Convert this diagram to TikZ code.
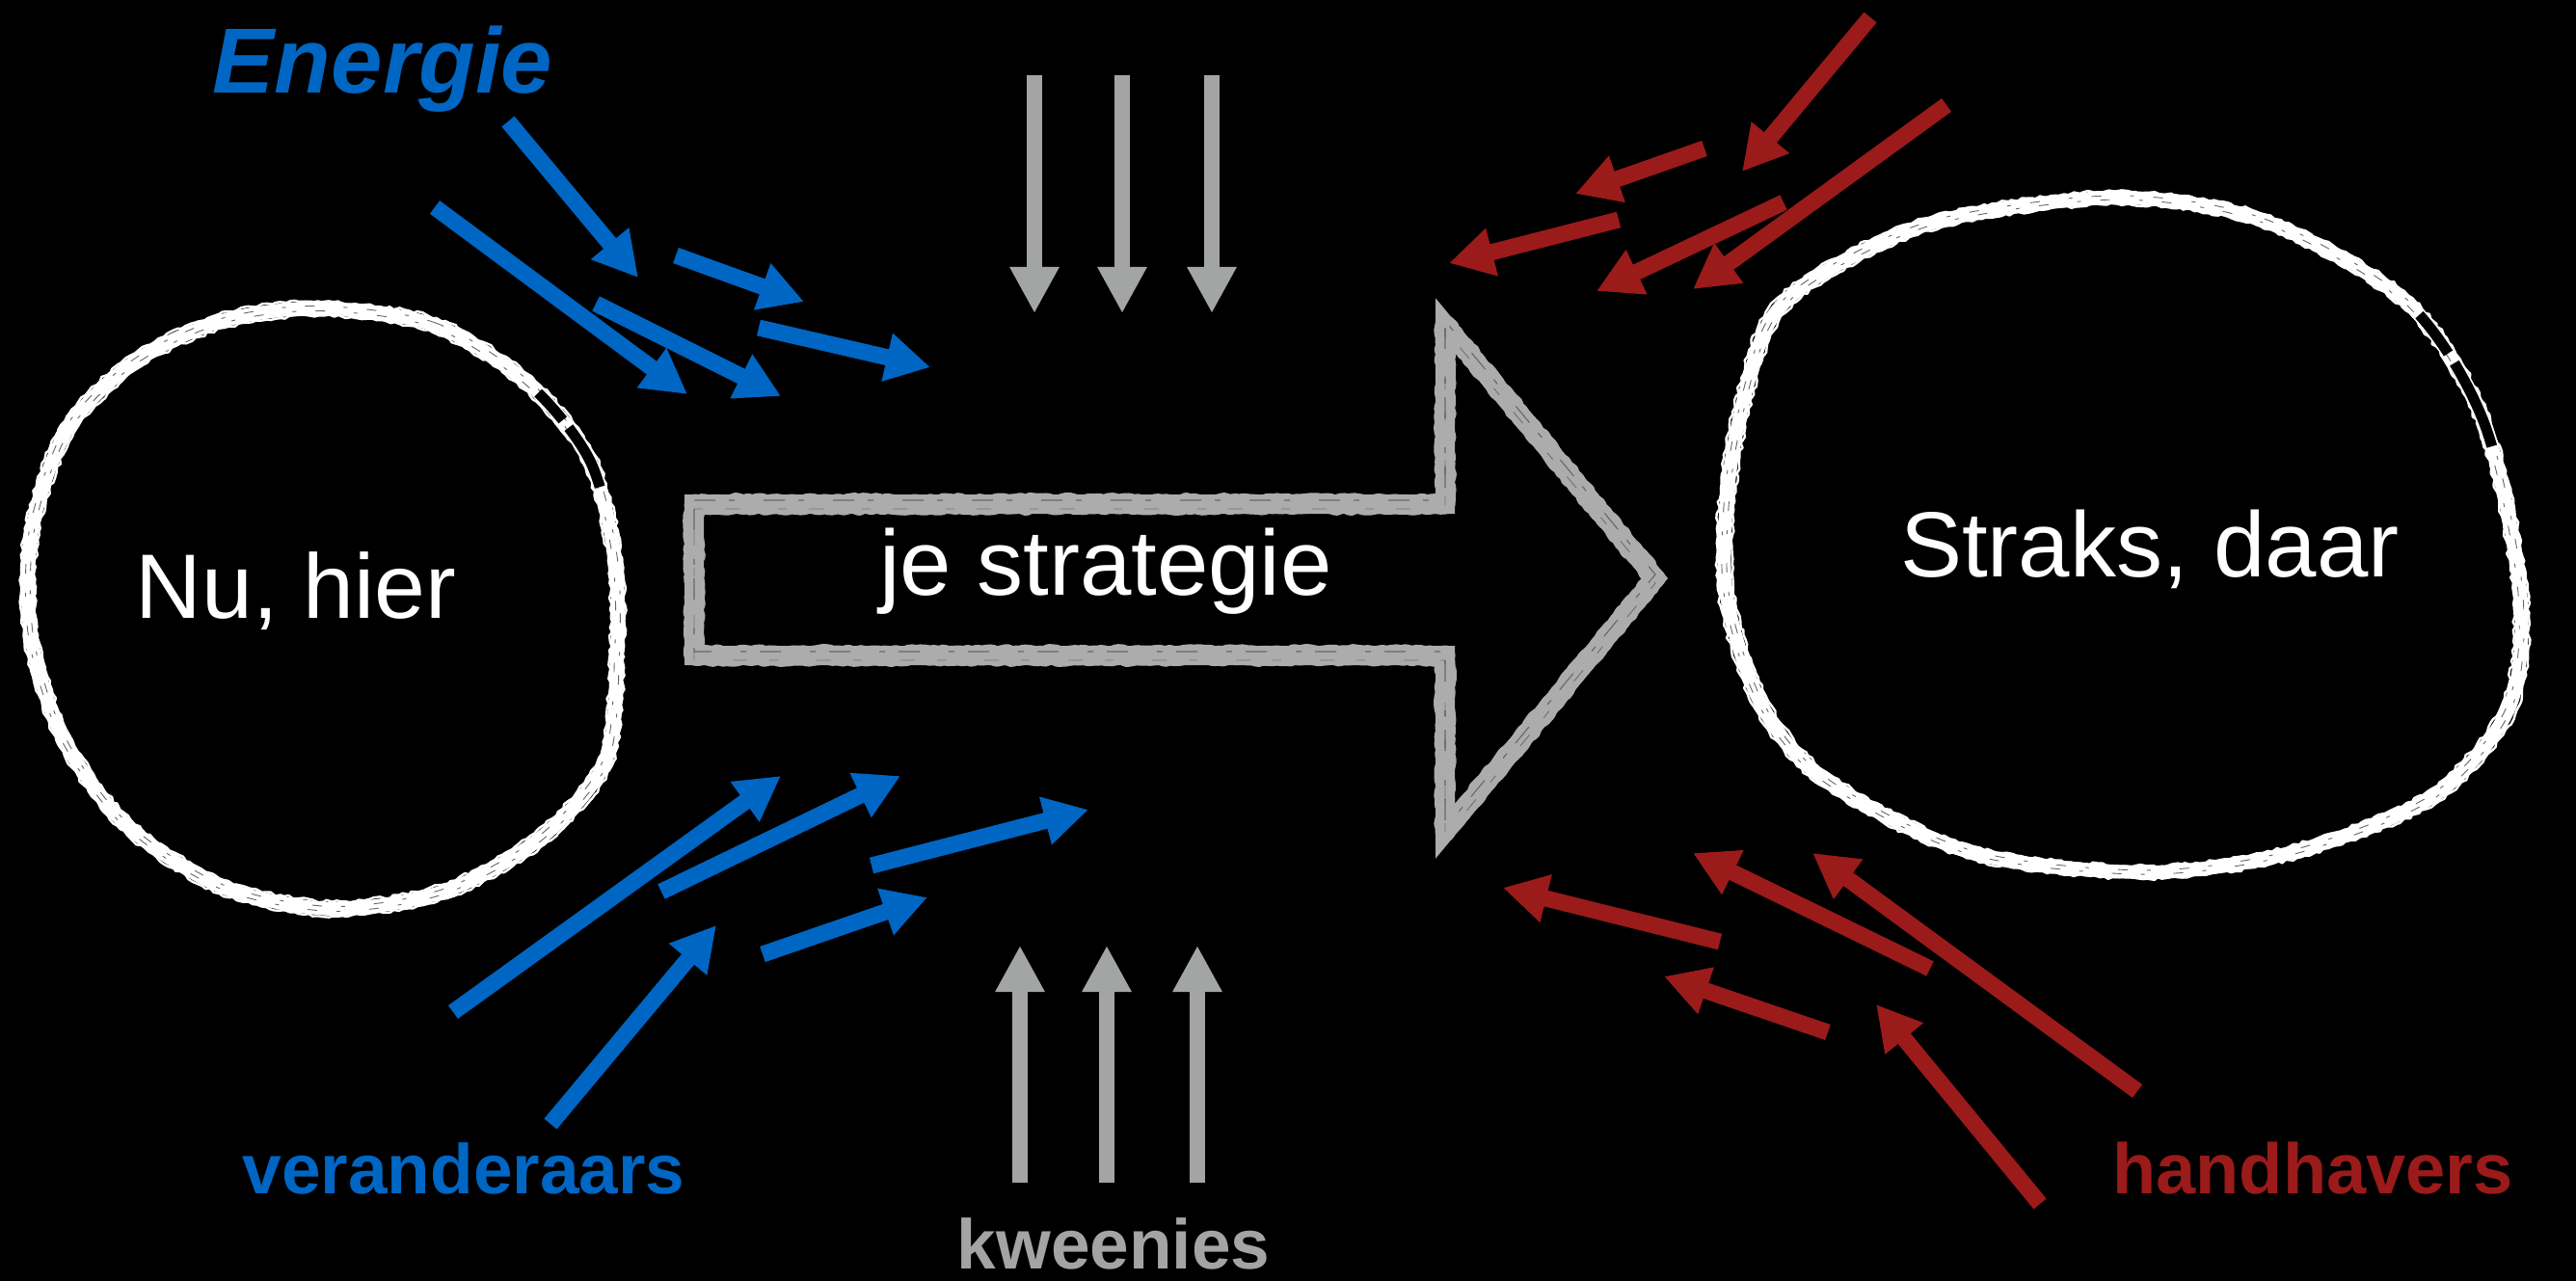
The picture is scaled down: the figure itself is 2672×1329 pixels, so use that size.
\documentclass[tikz,border=0pt]{standalone}
\usepackage{fontspec}
\setmainfont{Liberation Sans}
\usetikzlibrary{arrows.meta,decorations.pathmorphing}

\definecolor{chgblue}{RGB}{0,102,196}
\definecolor{chgred}{RGB}{155,26,26}
\definecolor{neutralgray}{RGB}{162,165,163}
\definecolor{chalkgray}{RGB}{172,172,172}

% hand-drawn loops (centre lines of the chalk strokes)
\newcommand\loopnu{plot[smooth cycle] coordinates {(330,320) (450,337) (548,398) (612,478) (638,580) (640,680) (628,790) (560,870) (460,925) (345,943) (230,920) (130,855) (65,765) (32,660) (33,550) (70,445) (140,375) (230,333)}}
\newcommand\loopstraks{plot[smooth cycle] coordinates {(2196,205) (2348,229) (2497,314) (2576,437) (2614,611) (2603,733) (2524,826) (2379,884) (2227,905) (2043,884) (1893,809) (1826,729) (1790,611) (1796,477) (1832,340) (1893,282) (2012,229)}}
\newcommand\strategyoutline{(720,523) -- (1499,523) -- (1499,337) -- (1717,600) -- (1499,863) -- (1499,680) -- (720,680) -- cycle}

\begin{document}
\begin{tikzpicture}[x=1pt,y=-1pt,
  chalkcore/.style={draw=white, line width=14pt},
  chalkedge/.style={draw=white, line width=2.4pt, line join=round, decorate,
    decoration={random steps, segment length=5pt, amplitude=1.6pt}},
  chalkstreak/.style={draw=black, line width=0.9pt, dash pattern=on 10pt off 30pt on 4pt off 20pt, opacity=0.6},
  chalkgap/.style={draw=black, line width=11pt},
  bigtxt/.style={text=white, inner sep=0pt, anchor=base, font=\fontsize{95}{110}\selectfont},
  tagtxt/.style={inner sep=0pt, anchor=base, font=\bfseries\fontsize{73}{80}\selectfont},
  flowarrow/.style={line width=17pt, -{Triangle[width=48pt,length=46pt]}},
  bluearrow/.style={flowarrow, draw=chgblue},
  redarrow/.style={flowarrow, draw=chgred},
  grayarrow/.style={line width=16pt, draw=neutralgray, -{Triangle[width=48pt,length=48pt]}}
]
\pgfmathsetseed{4711}
\fill[black] (0,0) rectangle (2672,1329);
\useasboundingbox (0,0) rectangle (2672,1329);

% ---- chalk loop: Nu, hier
\draw[chalkcore] \loopnu;
\draw[chalkedge, scale around={1.024:(338,632)}] \loopnu;
\draw[chalkedge, scale around={0.976:(338,632)}] \loopnu;
\draw[chalkstreak, scale around={1.008:(338,632)}] \loopnu;
\draw[chalkstreak, dash phase=19pt, scale around={0.992:(338,632)}] \loopnu;
\draw[chalkgap, dash pattern=on 0pt off 130pt on 38pt off 10pt on 70pt off 5000pt] \loopnu;

% ---- chalk loop: Straks, daar
\draw[chalkcore] \loopstraks;
\draw[chalkedge, scale around={1.019:(2210,555)}] \loopstraks;
\draw[chalkedge, scale around={0.981:(2210,555)}] \loopstraks;
\draw[chalkstreak, scale around={1.006:(2210,555)}] \loopstraks;
\draw[chalkstreak, dash phase=19pt, scale around={0.994:(2210,555)}] \loopstraks;
\draw[chalkgap, dash pattern=on 0pt off 190pt on 50pt off 12pt on 95pt off 5000pt] \loopstraks;

% ---- chalk block arrow
\draw[chalkgray, line width=20pt, line join=miter, miter limit=20] \strategyoutline;
\draw[chalkgray, line width=21pt, line join=round, decorate,
  decoration={random steps, segment length=5pt, amplitude=1.5pt}] \strategyoutline;
\draw[black, line width=1.1pt, opacity=0.4, dash pattern=on 22pt off 14pt on 6pt off 30pt,
  shift={(0,-4)}] \strategyoutline;
\draw[black, line width=0.9pt, opacity=0.35, dash pattern=on 9pt off 23pt on 15pt off 40pt,
  shift={(0,5)}] \strategyoutline;

% ---- texts
\node[bigtxt] (nuhier) at (307,641) {Nu, hier};
\node[bigtxt, font=\fontsize{96}{110}\selectfont] (strategie) at (1147,617) {je strategie};
\node[bigtxt, font=\fontsize{96}{110}\selectfont] (straks) at (2230,598) {Straks, daar};
\node[inner sep=0pt, anchor=base, text=chgblue, font=\bfseries\itshape\fontsize{96}{110}\selectfont] (energie) at (397,97) {Energie};
\node[tagtxt, text=chgblue] (veranderaars) at (481,1238) {veranderaars};
\node[tagtxt, text=neutralgray] (kweenies) at (1155,1316) {kweenies};
\node[tagtxt, text=chgred, font=\bfseries\fontsize{74}{80}\selectfont] (handhavers) at (2399,1238) {handhavers};

% ---- blue arrows (veranderaars)
\foreach \n/\xa/\ya/\xb/\yb in {
  1/527/126/662/288, 2/451/215/713/409, 3/618/315/810/411, 4/701/265/834/313,
  5/787/340/965/381, 6/470/1050/810/805, 7/686/925/934/805, 8/571/1166/743/960,
  9/904/898/1129/840, 10/791/990/962/931} {
  \coordinate (bs\n) at (\xa,\ya);
  \coordinate (be\n) at (\xb,\yb);
  \draw[bluearrow] (bs\n) -- (be\n);
}

% ---- red arrows (handhavers)
\foreach \n/\xa/\ya/\xb/\yb in {
  1/1940/18/1807/178, 2/2019/109/1756/300, 3/1768/154/1634/201, 4/1679/228/1503/273,
  5/1850/210/1656/302, 6/1784/977/1559/921, 7/2002/1005/1756/885, 8/2217/1132/1880/885,
  9/1896/1071/1726/1013, 10/2116/1249/1946/1042} {
  \coordinate (rs\n) at (\xa,\ya);
  \coordinate (re\n) at (\xb,\yb);
  \draw[redarrow] (rs\n) -- (re\n);
}

% ---- gray arrows (kweenies)
\foreach \n/\x in {1/1073, 2/1164, 3/1257} {
  \coordinate (gts\n) at (\x,78);
  \coordinate (gte\n) at (\x,325);
  \draw[grayarrow] (gts\n) -- (gte\n);
}
\foreach \n/\x in {1/1058, 2/1148, 3/1242} {
  \coordinate (gbs\n) at (\x,1227);
  \coordinate (gbe\n) at (\x,981);
  \draw[grayarrow] (gbs\n) -- (gbe\n);
}
\end{tikzpicture}
\end{document}
